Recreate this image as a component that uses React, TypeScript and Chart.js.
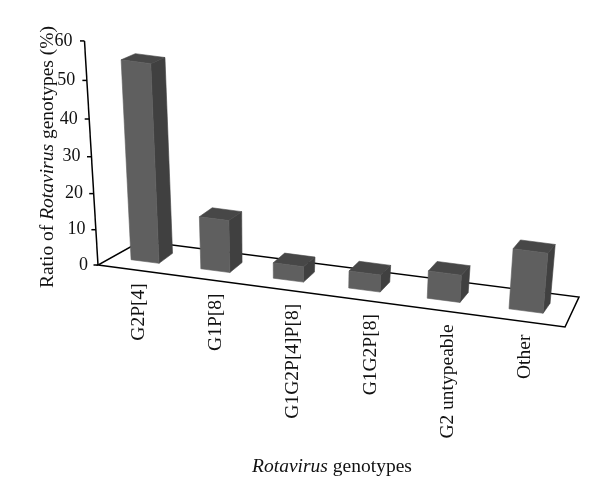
import React, { useEffect, useRef } from "react";
import { Chart, registerables } from "chart.js";

Chart.register(...registerables);

const categories = ["G2P[4]", "G1P[8]", "G1G2P[4]P[8]", "G1G2P[8]", "G2 untypeable", "Other"];
const ratios = [55, 15, 4.5, 5, 8, 17.5];
const yTicks = [0, 10, 20, 30, 40, 50, 60];

const FONT = '"Liberation Serif", serif';
const FRONT = "#5f5f5f";
const SIDE = "#404040";
const TOP = "#474747";
const VP = { x: 292, y: 3483 };
const AXIS_K = -0.0651;
const BAR_K = -0.0637;

type Pt = { x: number; y: number };

function lift(p: Pt, q: number): Pt {
  return { x: (p.x + q * VP.x) / (1 + q), y: (p.y + q * VP.y) / (1 + q) };
}

const plugin3d = {
  id: "projected3d",
  afterDatasetsDraw(chart: any) {
    const { ctx, chartArea: a, scales } = chart;
    const yS = scales.y;
    const xS = scales.x;
    const norm = (v: number) => (yS.bottom - yS.getPixelForValue(v)) / (yS.bottom - yS.top);
    const origin = { x: a.left - 1, y: a.bottom };

    ctx.save();
    ctx.strokeStyle = "#000";
    ctx.lineWidth = 1.5;
    ctx.lineJoin = "miter";

    // floor outline
    ctx.beginPath();
    ctx.moveTo(origin.x, origin.y);
    ctx.lineTo(origin.x + 467, origin.y + 62);
    ctx.lineTo(origin.x + 481, origin.y + 32);
    ctx.lineTo(origin.x + 43, origin.y - 24);
    ctx.closePath();
    ctx.stroke();

    // value axis, ticks and labels
    ctx.beginPath();
    const axisTop = lift(origin, AXIS_K);
    ctx.moveTo(origin.x, origin.y);
    ctx.lineTo(axisTop.x, axisTop.y);
    ctx.stroke();
    ctx.fillStyle = "#111";
    ctx.font = `18px ${FONT}`;
    ctx.textAlign = "right";
    ctx.textBaseline = "middle";
    for (const t of yTicks) {
      const h = norm(t);
      const p = lift(origin, AXIS_K * h);
      ctx.beginPath();
      ctx.moveTo(p.x - 4.5, p.y);
      ctx.lineTo(p.x, p.y);
      ctx.stroke();
      ctx.fillText(String(t), p.x - 10 - 2 * h, p.y);
    }

    // bars
    const meta = chart.getDatasetMeta(0);
    const first = xS.getPixelForValue(0);
    const span = xS.getPixelForValue(categories.length - 1) - first;
    const warp = (px: number) => {
      const t = (px - first) / span;
      return (331 * t + 145) / (1 - 0.095 * t);
    };
    const floorY = (x: number) => 261.5 + (x - 145) * 0.13;
    meta.data.forEach((bar: any, i: number) => {
      const h = norm(ratios[i]);
      const t = (bar.x - first) / span;
      const l = warp(bar.x - bar.width / 2);
      const r = warp(bar.x + bar.width / 2);
      const dx = 13.5 - 6.5 * t;
      const dy = -10;
      const q = BAR_K * h;
      const fbl = { x: l, y: floorY(l) };
      const fbr = { x: r, y: floorY(r) };
      const bbr = { x: r + dx, y: floorY(r) + dy };
      const ftl = lift(fbl, q);
      const ftr = lift(fbr, q);
      const f = 1 - 0.42 * h;
      const btl = { x: ftl.x + dx * 1.05, y: ftl.y + dy * f };
      const btr = { x: ftr.x + dx * 1.05, y: ftr.y + dy * f };
      const poly = (pts: Pt[], c: string) => {
        ctx.fillStyle = c;
        ctx.strokeStyle = c;
        ctx.lineWidth = 0.6;
        ctx.beginPath();
        pts.forEach((p, n) => (n ? ctx.lineTo(p.x, p.y) : ctx.moveTo(p.x, p.y)));
        ctx.closePath();
        ctx.fill();
        ctx.stroke();
      };
      poly([fbr, bbr, btr, ftr], SIDE);
      poly([ftl, ftr, btr, btl], TOP);
      poly([fbl, fbr, ftr, ftl], FRONT);

      // category label, reading upward, below the front floor edge
      const edgeY = origin.y + (bar.x - origin.x) * (62 / 467);
      ctx.save();
      ctx.translate(bar.x + 1, edgeY + 13);
      ctx.rotate(-Math.PI / 2);
      ctx.fillStyle = "#111";
      ctx.font = `19.5px ${FONT}`;
      ctx.textAlign = "right";
      ctx.textBaseline = "middle";
      ctx.fillText(categories[i], 0, 0);
      ctx.restore();
    });

    // axis titles, with the genus name in italics
    const runs = (parts: [string, string][], cx: number, cy: number, rot: number) => {
      ctx.save();
      ctx.translate(cx, cy);
      ctx.rotate(rot);
      ctx.fillStyle = "#111";
      ctx.textAlign = "left";
      ctx.textBaseline = "middle";
      let w = 0;
      for (const [s, style] of parts) {
        ctx.font = `${style} 19.5px ${FONT}`;
        w += ctx.measureText(s).width;
      }
      let x = -w / 2;
      for (const [s, style] of parts) {
        ctx.font = `${style} 19.5px ${FONT}`;
        ctx.fillText(s, x, 0);
        x += ctx.measureText(s).width;
      }
      ctx.restore();
    };
    runs([["Ratio of ", "normal"], ["Rotavirus", "italic"], [" genotypes (%)", "normal"]], 48, 157, -Math.PI / 2);
    runs([["Rotavirus", "italic"], [" genotypes", "normal"]], 332, 467, 0);
    ctx.restore();
  },
};

export default function App() {
  const ref = useRef<HTMLCanvasElement>(null);
  useEffect(() => {
    const chart = new Chart(ref.current!, {
      type: "bar",
      data: {
        labels: categories,
        datasets: [
          {
            data: ratios,
            backgroundColor: "rgba(0,0,0,0)",
            borderWidth: 0,
            barPercentage: 0.405,
            categoryPercentage: 1,
          },
        ],
      },
      options: {
        responsive: false,
        animation: false,
        layout: { padding: { left: 99, right: 37, top: 41, bottom: 234 } },
        plugins: { legend: { display: false }, tooltip: { enabled: false }, title: { display: false } },
        scales: {
          x: { display: false },
          y: { display: false, min: 0, max: 60, ticks: { stepSize: 10 } },
        },
      },
      plugins: [plugin3d],
    });
    return () => chart.destroy();
  }, []);
  return (
    <div style={{ position: "absolute", left: 0, top: 0, width: 600, height: 499, background: "#fff" }}>
      <canvas ref={ref} width={600} height={499} style={{ display: "block" }} />
    </div>
  );
}
